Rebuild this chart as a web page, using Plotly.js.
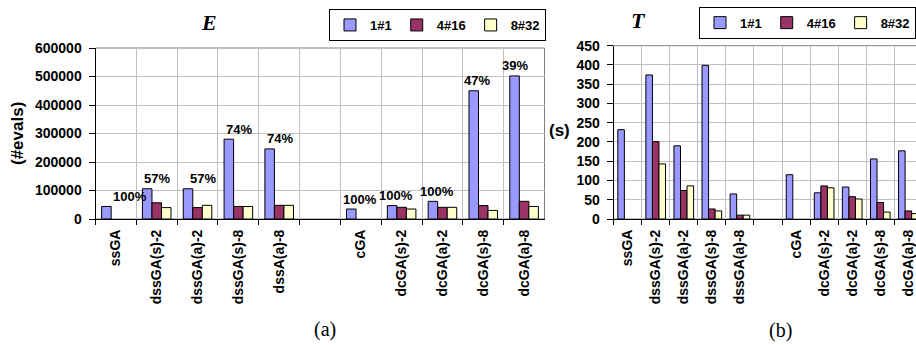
<!DOCTYPE html>
<html>
<head>
<meta charset="utf-8">
<script src="https://cdn.plot.ly/plotly-3.0.1.min.js"></script>
<style>
  html, body { margin: 0; padding: 0; overflow: hidden; background: #fff; }
  #chart { width: 940px; height: 345px; }
</style>
</head>
<body>
<div id="chart"></div>
<script>
// ---------- data ----------
const seriesNames = ["1#1", "4#16", "8#32"];

// chart (a): number of evaluations
const catsE = ["ssGA", "dssGA(s)-2", "dssGA(a)-2", "dssGA(s)-8", "dssA(a)-8", " ",
               "cGA", "dcGA(s)-2", "dcGA(a)-2", "dcGA(s)-8", "dcGA(a)-8"];
const evals_1x1  = [44000, 106000, 106000, 280000, 246000, null, 35000, 47000, 62000, 450000, 502000];
const evals_4x16 = [null,   57000,  40000,  44000,  48000, null, null,  41000, 41000,  47000,  62000];
const evals_8x32 = [null,   40000,  48000,  44000,  48000, null, null,  35000, 41000,  30000,  44000];
const pctCats = ["ssGA", "dssGA(s)-2", "dssGA(a)-2", "dssGA(s)-8", "dssA(a)-8",
                 "cGA", "dcGA(s)-2", "dcGA(a)-2", "dcGA(s)-8", "dcGA(a)-8"];
const pctText = ["100%", "57%", "57%", "74%", "74%", "100%", "100%", "100%", "47%", "39%"];
const yTicksE = [0, 100000, 200000, 300000, 400000, 500000, 600000];

// chart (b): time in seconds
const catsT = ["ssGA", "dssGA(s)-2", "dssGA(a)-2", "dssGA(s)-8", "dssGA(a)-8", " ",
               "cGA", "dcGA(s)-2", "dcGA(a)-2", "dcGA(s)-8", "dcGA(a)-8"];
const time_1x1  = [232, 374, 190, 399, 65, null, 115, 68, 83, 156, 177];
const time_4x16 = [null, 201, 74, 26, 10, null, null, 86, 58, 43, 21];
const time_8x32 = [null, 143, 86, 21, 10, null, null, 81, 52, 18, 14];
const yTicksT = [0, 50, 100, 150, 200, 250, 300, 350, 400, 450];

// ---------- styles ----------
const colors = ["#9999FF", "#993366", "#FFFFCC"];
const W = 940, H = 345;
const px = v => v / W;
const py = v => 1 - v / H;
const FONT = "Liberation Sans, Arial, sans-serif";
const SERIF = "Liberation Serif, Times New Roman, serif";
const labelNudge = [14, 0, 5, 1, 1, -1, -6, -5, -6, -9];

const seriesE = [evals_1x1, evals_4x16, evals_8x32];
const seriesT = [time_1x1, time_4x16, time_8x32];

const traces = [];
seriesE.forEach((vals, i) => traces.push({
  type: "bar", x: catsE, y: vals, name: seriesNames[i], xaxis: "x", yaxis: "y",
  marker: { color: colors[i], line: { color: "#000", width: 1 } },
  legend: "legend", hoverinfo: "x+y+name"
}));
seriesT.forEach((vals, i) => traces.push({
  type: "bar", x: catsT, y: vals, name: seriesNames[i], xaxis: "x2", yaxis: "y2",
  marker: { color: colors[i], line: { color: "#000", width: 1 } },
  legend: "legend2", hoverinfo: "x+y+name"
}));

const tickFontX = { family: FONT, size: 14, color: "#000", weight: "bold" };
const tickFontY = { family: FONT, size: 14, color: "#000", weight: "bold" };

function xAxis(domain, cats, anchor) {
  return {
    domain: domain, anchor: anchor, type: "category", categoryorder: "array", categoryarray: cats,
    tickson: "boundaries", ticks: "outside", ticklen: 5, tickcolor: "#000",
    ticklabelstandoff: 4,
    tickangle: -90, tickfont: tickFontX, showline: true, linecolor: "#000", linewidth: 1,
    showgrid: true, gridcolor: "#C0C0C0", gridwidth: 1, zeroline: false, fixedrange: true
  };
}
function yAxis(domain, range, ticks, anchor) {
  return {
    domain: domain, anchor: anchor, range: range, tickvals: ticks, ticktext: ticks.map(String),
    ticks: "outside", ticklen: 6, tickcolor: "#000", tickfont: tickFontY, ticklabelstandoff: 4,
    showline: true, linecolor: "#000", linewidth: 1,
    showgrid: true, gridcolor: "#C0C0C0", gridwidth: 1, zeroline: false, fixedrange: true
  };
}

const annotations = [];
pctCats.forEach((c, k) => {
  const idx = catsE.indexOf(c);
  const top = Math.max(...seriesE.map(s => s[idx] || 0));
  annotations.push({
    x: c, y: top, xref: "x", yref: "y", text: "<b>" + pctText[k] + "</b>",
    showarrow: false, yanchor: "middle", yshift: 10, xshift: labelNudge[k],
    font: { family: FONT, size: 13, color: "#000" }
  });
});
// chart titles and labels
annotations.push(
  { x: px(209), y: py(22.5), xref: "paper", yref: "paper", text: "<b><i>E</i></b>", showarrow: false,
    xanchor: "center", yanchor: "middle", font: { family: SERIF, size: 22, color: "#000" } },
  { x: px(638), y: py(21), xref: "paper", yref: "paper", text: "<b><i>T</i></b>", showarrow: false,
    xanchor: "center", yanchor: "middle", font: { family: SERIF, size: 22, color: "#000" } },
  { x: px(17.5), y: py(133.5), xref: "paper", yref: "paper", text: "<b>(#evals)</b>", showarrow: false,
    textangle: -90, xanchor: "center", yanchor: "middle", font: { family: FONT, size: 17, color: "#000" } },
  { x: px(559), y: py(130.7), xref: "paper", yref: "paper", text: "<b>(s)</b>", showarrow: false,
    xanchor: "center", yanchor: "middle", font: { family: FONT, size: 17, color: "#000" } },
  { x: px(325), y: py(329), xref: "paper", yref: "paper", text: "(a)", showarrow: false,
    xanchor: "center", yanchor: "middle", font: { family: SERIF, size: 20, color: "#000" } },
  { x: px(780), y: py(330), xref: "paper", yref: "paper", text: "(b)", showarrow: false,
    xanchor: "center", yanchor: "middle", font: { family: SERIF, size: 20, color: "#000" } }
);

const legendBase = {
  orientation: "h", xanchor: "left", yanchor: "top", bgcolor: "#fff",
  bordercolor: "#000", borderwidth: 1, traceorder: "normal",
  font: { family: FONT, size: 13, color: "#000", weight: "bold" }
};

const layout = {
  width: W, height: H, margin: { l: 0, r: 0, t: 0, b: 0 },
  paper_bgcolor: "#fff", plot_bgcolor: "#fff",
  barmode: "group", bargap: 0.3, bargroupgap: 0, showlegend: true,
  xaxis: xAxis([px(95.5), px(544.5)], catsE, "y"),
  yaxis: yAxis([py(219), py(48)], [0, 600000], yTicksE, "x"),
  xaxis2: xAxis([px(613.6), px(922.4)], catsT, "y2"),
  yaxis2: yAxis([py(219), py(45.7)], [0, 450], yTicksT, "x2"),
  legend: Object.assign({}, legendBase, { x: px(329), y: py(9) }),
  legend2: Object.assign({}, legendBase, { x: px(699), y: py(6.7) }),
  shapes: [
    { type: "rect", xref: "x domain", yref: "y domain", x0: 0, x1: 1, y0: 0, y1: 1,
      line: { color: "#808080", width: 1 }, layer: "below" },
    { type: "rect", xref: "x2 domain", yref: "y2 domain", x0: 0, x1: 1, y0: 0, y1: 1,
      line: { color: "#808080", width: 1 }, layer: "below" }
  ],
  annotations: annotations
};

Plotly.newPlot("chart", traces, layout, { staticPlot: true, displayModeBar: false });
</script>
</body>
</html>
